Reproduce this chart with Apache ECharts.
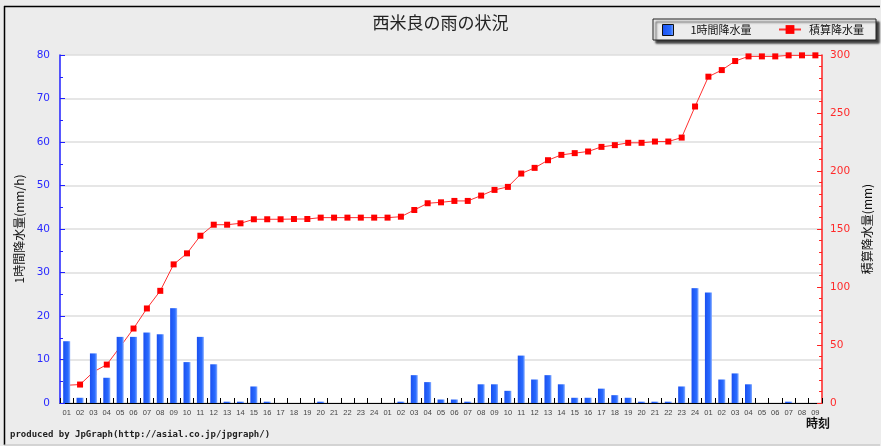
<!DOCTYPE html>
<html lang="ja">
<head>
<meta charset="utf-8">
<title>西米良の雨の状況</title>
<script src="https://cdn.jsdelivr.net/npm/echarts@6/dist/echarts.min.js"></script>
<style>
  html, body { margin: 0; padding: 0; background: #ececec; }
  #chart { width: 881px; height: 446px; }
</style>
</head>
<body>
<div id="chart"></div>
<script>
// 時刻 (3日分: 01-24, 01-24, 01-09)
const hours = [
  '01','02','03','04','05','06','07','08','09','10','11','12',
  '13','14','15','16','17','18','19','20','21','22','23','24',
  '01','02','03','04','05','06','07','08','09','10','11','12',
  '13','14','15','16','17','18','19','20','21','22','23','24',
  '01','02','03','04','05','06','07','08','09'
]

// 1時間降水量 (mm/h)
const hourlyRain = [
  14.2, 1.2, 11.4, 5.8, 15.2, 15.2, 16.2, 15.8, 21.8, 9.4, 15.2, 8.9,
  0.3, 0.3, 3.8, 0.3, 0, 0, 0, 0.3, 0, 0, 0, 0,
  0, 0.3, 6.4, 4.8, 0.8, 0.8, 0.3, 4.3, 4.3, 2.8, 10.9, 5.4,
  6.4, 4.3, 1.2, 1.2, 3.3, 1.8, 1.2, 0.3, 0.3, 0.3, 3.8, 26.4,
  25.4, 5.4, 6.8, 4.3, 0, 0, 0.3, 0, 0
]

// 積算降水量 (mm)
const totalRain = [
  15.3, 15.9, 26.8, 33.1, 48.4, 64.2, 81.5, 96.7, 119.5, 129.0, 144.2, 153.7,
  153.7, 154.9, 158.4, 158.4, 158.4, 158.6, 158.6, 159.8, 159.8, 159.8, 159.8, 159.8,
  159.8, 160.6, 166.4, 172.2, 173.0, 174.2, 174.2, 178.8, 183.7, 186.3, 197.8, 202.7,
  209.3, 213.9, 215.4, 216.8, 220.8, 222.3, 224.3, 224.3, 225.4, 225.4, 228.8, 255.6,
  281.3, 287.0, 294.8, 298.8, 298.8, 298.8, 299.7, 299.7, 299.7
]

const leftTicks = { min: 0, max: 80, interval: 10 }
const rightTicks = { min: 0, max: 300, interval: 50 }

const cjk = "'Noto Sans CJK JP', sans-serif"
const num = "'DejaVu Sans', sans-serif"

const chart = echarts.init(document.getElementById('chart'))

const option = {
  backgroundColor: '#ececec',
  animation: false,
  title: {
    text: '西米良の雨の状況',
    left: 'center',
    top: 9,
    textStyle: { fontFamily: cjk, fontSize: 17, fontWeight: 'normal', color: '#222' }
  },
  legend: [
    {
      data: [{
        name: '1時間降水量',
        icon: 'rect',
        itemStyle: { borderColor: '#111', borderWidth: 1 }
      }],
      left: 662,
      top: 24,
      z: 5,
      padding: 0,
      itemWidth: 11,
      itemHeight: 11,
      textStyle: { fontFamily: cjk, fontSize: 11, color: '#111', padding: [0, 0, 0, 12] }
    },
    {
      data: ['積算降水量'],
      left: 778,
      top: 24,
      z: 5,
      padding: 0,
      itemWidth: 22,
      itemHeight: 11,
      textStyle: { fontFamily: cjk, fontSize: 11, color: '#111', padding: [0, 0, 0, 3] }
    }
  ],
  grid: {
    left: 60,
    right: 51,
    top: 55,
    bottom: 43,
    show: true,
    backgroundColor: '#ffffff',
    borderWidth: 0
  },
  xAxis: {
    type: 'category',
    data: hours,
    name: '時刻',
    nameLocation: 'end',
    nameGap: 8,
    nameTextStyle: {
      fontFamily: cjk, fontSize: 12, fontWeight: 'bold', color: '#111',
      align: 'right', verticalAlign: 'top', padding: [14, 0, 0, 0]
    },
    axisLine: { lineStyle: { color: '#000', width: 1 } },
    axisTick: { show: true, interval: 0, inside: true, length: 5, lineStyle: { color: '#000' } },
    axisLabel: {
      interval: 0, margin: 6, fontFamily: "'Liberation Sans', sans-serif",
      fontSize: 7.5, color: '#444'
    },
    splitLine: { show: false }
  },
  yAxis: [
    {
      type: 'value',
      position: 'left',
      min: leftTicks.min,
      max: leftTicks.max,
      interval: leftTicks.interval,
      name: '1時間降水量(mm/h)',
      nameLocation: 'middle',
      nameRotate: 90,
      nameGap: 30,
      nameTextStyle: { fontFamily: cjk, fontSize: 12, color: '#111' },
      axisLine: { show: true, lineStyle: { color: '#2020ff', width: 1.5 } },
      axisTick: { show: true, inside: true, length: 5, lineStyle: { color: '#2020ff' } },
      minorTick: { show: true, splitNumber: 2, length: 3, lineStyle: { color: '#2020ff' } },
      axisLabel: { margin: 10, fontFamily: num, fontSize: 10.5, color: '#2a2aff' },
      splitLine: { show: true, lineStyle: { color: '#dedede', width: 1.5 } }
    },
    {
      type: 'value',
      position: 'right',
      min: rightTicks.min,
      max: rightTicks.max,
      interval: rightTicks.interval,
      name: '積算降水量(mm)',
      nameLocation: 'middle',
      nameRotate: 90,
      nameGap: 32,
      nameTextStyle: { fontFamily: cjk, fontSize: 12, color: '#111' },
      axisLine: { show: true, lineStyle: { color: '#ff2020', width: 1.5 } },
      axisTick: { show: true, inside: true, length: 5, lineStyle: { color: '#ff2020' } },
      minorTick: { show: true, splitNumber: 5, length: 3, lineStyle: { color: '#ff2020' } },
      axisLabel: { margin: 8, fontFamily: num, fontSize: 10.5, color: '#ff2a2a' },
      splitLine: { show: false }
    }
  ],
  series: [
    {
      name: '積算降水量',
      type: 'line',
      yAxisIndex: 1,
      data: totalRain,
      z: 2,
      symbol: 'rect',
      symbolSize: 6,
      showAllSymbol: true,
      lineStyle: { color: '#ff3030', width: 1 },
      itemStyle: { color: '#ff0000' }
    },
    {
      name: '1時間降水量',
      type: 'bar',
      yAxisIndex: 0,
      data: hourlyRain,
      z: 3,
      barWidth: 7,
      itemStyle: {
        color: new echarts.graphic.LinearGradient(0, 0, 1, 0, [
          { offset: 0, color: '#1a50f0' },
          { offset: 0.7, color: '#2a6cff' },
          { offset: 1, color: '#8aaeff' }
        ])
      }
    }
  ],
  graphic: [
    // 外枠
    { type: 'line', z: 1, shape: { x1: 4, y1: 6.5, x2: 880, y2: 6.5 }, style: { stroke: '#000', lineWidth: 1.5 } },
    { type: 'line', z: 1, shape: { x1: 4.5, y1: 6, x2: 4.5, y2: 445 }, style: { stroke: '#000', lineWidth: 1.5 } },
    { type: 'line', z: 1, shape: { x1: 4, y1: 445, x2: 880, y2: 445 }, style: { stroke: '#bbb', lineWidth: 1 } },
    // 凡例の枠
    {
      type: 'rect',
      z: 1,
      shape: { x: 653, y: 19, width: 223, height: 21 },
      style: {
        fill: '#ececec', stroke: '#222', lineWidth: 1,
        shadowBlur: 2, shadowOffsetX: 3, shadowOffsetY: 3, shadowColor: 'rgba(0,0,0,0.75)'
      }
    },
    {
      type: 'text',
      z: 1,
      left: 10,
      top: 430,
      style: {
        text: 'produced by JpGraph(http://asial.co.jp/jpgraph/)',
        fontFamily: "'DejaVu Sans Mono', monospace",
        fontSize: 9,
        fontWeight: 'bold',
        fill: '#222'
      }
    }
  ]
}

chart.setOption(option)
</script>
</body>
</html>
